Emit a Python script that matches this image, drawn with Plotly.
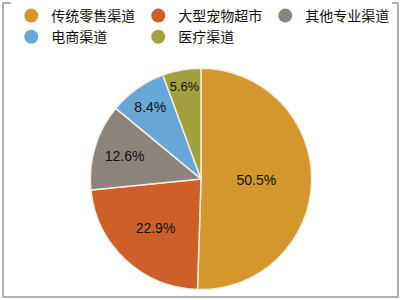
import plotly.graph_objects as go

categories = ["传统零售渠道", "大型宠物超市", "其他专业渠道", "电商渠道", "医疗渠道"]
values = [50.5, 22.9, 12.6, 8.4, 5.6]
colors = ["#D4972D", "#CF5F28", "#8C837A", "#68A8D8", "#A3A040"]

fig = go.Figure()
fig.add_trace(go.Pie(
    labels=categories, values=values, sort=False, direction="clockwise", rotation=0,
    marker=dict(colors=colors, line=dict(color="#F4EDE4", width=1.5)),
    texttemplate="%{value:.1f}%", textposition="inside", insidetextorientation="horizontal",
    textfont=dict(family="Liberation Sans, Arial", size=14, color="#111111"),
    showlegend=False, hoverinfo="skip",
    domain=dict(x=[0.21, 0.79], y=[0.035, 0.775]),
))
for c, col in zip(categories, colors):
    fig.add_trace(go.Scatter(x=[None], y=[None], mode="markers", name=c,
                             marker=dict(symbol="circle", size=14, color=col)))

fig.update_layout(
    width=402, height=300, margin=dict(l=0, r=0, t=0, b=0),
    paper_bgcolor="white", plot_bgcolor="white",
    xaxis=dict(visible=False), yaxis=dict(visible=False),
    legend=dict(orientation="h", x=0.028, y=1.005, xanchor="left", yanchor="top",
                entrywidth=82, entrywidthmode="pixels", tracegroupgap=0,
                font=dict(family="Noto Sans CJK SC", size=14, color="#111111")),
    shapes=[dict(type="rect", xref="paper", yref="paper", x0=0.0075, x1=0.990, y0=0.01, y1=0.993,
                 line=dict(color="#999999", width=1.5))],
)
fig.write_html("out.html")
